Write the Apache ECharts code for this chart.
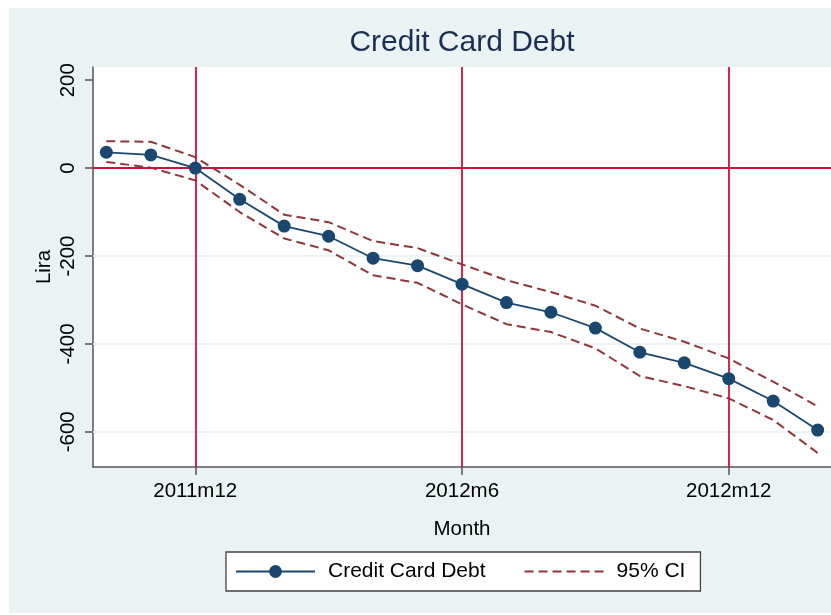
<!DOCTYPE html>
<html>
<head>
<meta charset="utf-8">
<script src="https://cdn.jsdelivr.net/npm/echarts@6/dist/echarts.min.js"></script>
<style>
  html, body { margin: 0; padding: 0; background: #fff; }
  #chart {
    width: 831px;
    height: 615px;
    background: linear-gradient(#eaf2f3, #eaf2f3) 9px 8px / 822px 605px no-repeat #fff;
  }
</style>
</head>
<body>
<div id="chart"></div>
<script>
// 月份
var months = ['2011m10', '2011m11', '2011m12', '2012m1', '2012m2', '2012m3', '2012m4', '2012m5', '2012m6',
  '2012m7', '2012m8', '2012m9', '2012m10', '2012m11', '2012m12', '2013m1', '2013m2']
var debt = [36, 30, 0, -71, -132, -155, -205, -222, -264, -306, -328, -364, -419, -443, -479, -530, -596]
var ciUpper = [61, 60, 25, -38, -106, -123, -166, -182, -219, -255, -282, -313, -365, -395, -433, -486, -542]
var ciLower = [14, 1, -28, -100, -160, -187, -244, -261, -310, -355, -373, -410, -473, -496, -524, -573, -648]
var xTicks = ['2011m12', '2012m6', '2012m12']
var yTicks = [-600, -400, -200, 0, 200]
var yGrid = [-600, -400, -200]

var font = 'Liberation Sans, Arial, sans-serif'
var xTickIdx = xTicks.map(function (m) { return months.indexOf(m) })

function pairs (arr) {
  return arr.map(function (v, i) { return [i, v] })
}

var chart = echarts.init(document.getElementById('chart'))
var option = {
  animation: false,
  textStyle: { fontFamily: font },
  title: {
    text: 'Credit Card Debt',
    left: 462,
    top: 28,
    padding: 0,
    textAlign: 'center',
    textStyle: { fontFamily: font, fontSize: 30, fontWeight: 'normal', color: '#1c2f52' }
  },
  legend: {
    left: 226,
    top: 552,
    padding: [9, 15, 9, 9],
    itemGap: 38,
    itemWidth: 79,
    itemHeight: 16,
    backgroundColor: '#fff',
    borderColor: '#444',
    borderWidth: 1.3,
    borderRadius: 0,
    textStyle: { fontFamily: font, fontSize: 21, color: '#000', padding: [0, 0, 0, 8] },
    data: [
      { name: 'Credit Card Debt' },
      { name: '95% CI', itemStyle: { opacity: 0 } }
    ]
  },
  grid: {
    left: 93,
    top: 67,
    right: 0,
    bottom: 148,
    show: true,
    backgroundColor: '#fff',
    borderWidth: 0
  },
  xAxis: {
    type: 'value',
    min: -0.3,
    max: months.length - 0.7,
    name: 'Month',
    nameLocation: 'middle',
    nameGap: 52,
    nameTextStyle: { fontFamily: font, fontSize: 20.5, color: '#000' },
    axisLine: { onZero: false, lineStyle: { color: '#555', width: 1.5 } },
    axisTick: { customValues: xTickIdx, length: 8, lineStyle: { color: '#555', width: 1.5 } },
    axisLabel: {
      customValues: xTickIdx,
      margin: 14,
      fontSize: 20.5,
      color: '#000',
      formatter: function (v) { return months[Math.round(v)] }
    },
    splitLine: { show: false }
  },
  yAxis: {
    type: 'value',
    min: -680,
    max: 230,
    name: 'Lira',
    nameLocation: 'middle',
    nameRotate: 90,
    nameGap: 38,
    nameMoveOverlap: false,
    nameTextStyle: { fontFamily: font, fontSize: 20.5, color: '#000' },
    axisLine: { show: true, onZero: false, lineStyle: { color: '#555', width: 1.5 } },
    axisTick: { show: true, customValues: yTicks, length: 8, lineStyle: { color: '#555', width: 1.5 } },
    axisLabel: { customValues: yTicks, rotate: 90, margin: 14, fontSize: 20.5, color: '#000' },
    splitLine: { show: false }
  },
  series: [
    {
      name: '95% CI',
      type: 'line',
      data: pairs(ciLower),
      symbol: 'none',
      lineStyle: { color: '#90353b', width: 2, type: [9, 5] },
      itemStyle: { color: '#90353b' },
      z: 3,
      markLine: {
        silent: true,
        symbol: 'none',
        label: { show: false },
        lineStyle: { color: '#eaf2f3', width: 2, type: 'solid' },
        z: 1,
        data: yGrid.map(function (v) { return { yAxis: v } })
      }
    },
    {
      name: '95% CI',
      type: 'line',
      data: pairs(ciUpper),
      symbol: 'none',
      lineStyle: { color: '#90353b', width: 2, type: [9, 5] },
      itemStyle: { color: '#90353b' },
      z: 3
    },
    {
      name: 'Credit Card Debt',
      type: 'line',
      data: pairs(debt),
      symbol: 'circle',
      symbolSize: 13,
      lineStyle: { color: '#1a476f', width: 1.8 },
      itemStyle: { color: '#1a476f' },
      z: 5,
      markLine: {
        silent: true,
        symbol: 'none',
        label: { show: false },
        lineStyle: { color: '#d0103a', width: 1.8, type: 'solid' },
        data: xTickIdx.map(function (i) { return { xAxis: i } }).concat([{ yAxis: 0 }])
      }
    }
  ]
}
chart.setOption(option)
</script>
</body>
</html>
